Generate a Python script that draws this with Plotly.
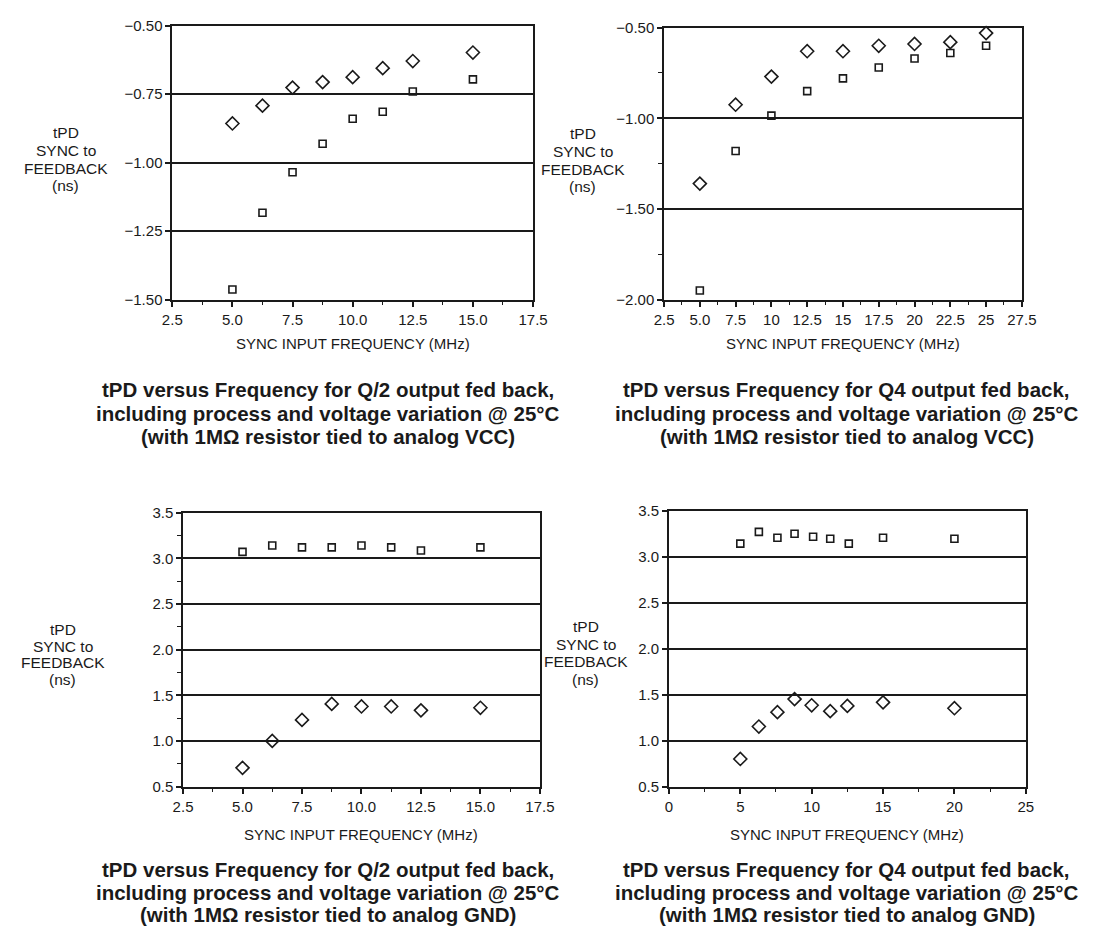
import plotly.graph_objects as go

# ---------------- data ----------------
# Panel 1: Q/2 fed back, 1MOhm to analog VCC
p1_freq = [5.0, 6.25, 7.5, 8.75, 10.0, 11.25, 12.5, 15.0]
p1_diamond = [-0.857, -0.792, -0.726, -0.706, -0.688, -0.655, -0.629, -0.598]
p1_square = [-1.463, -1.183, -1.035, -0.931, -0.840, -0.814, -0.740, -0.696]

# Panel 2: Q4 fed back, 1MOhm to analog VCC
p2_freq = [5.0, 7.5, 10.0, 12.5, 15.0, 17.5, 20.0, 22.5, 25.0]
p2_diamond = [-1.36, -0.925, -0.77, -0.63, -0.63, -0.60, -0.59, -0.58, -0.53]
p2_square = [-1.95, -1.18, -0.985, -0.85, -0.78, -0.72, -0.67, -0.64, -0.60]

# Panel 3: Q/2 fed back, 1MOhm to analog GND
p3_freq = [5.0, 6.25, 7.5, 8.75, 10.0, 11.25, 12.5, 15.0]
p3_square = [3.07, 3.14, 3.12, 3.12, 3.14, 3.12, 3.085, 3.12]
p3_diamond = [0.705, 1.0, 1.23, 1.405, 1.377, 1.377, 1.335, 1.363]

# Panel 4: Q4 fed back, 1MOhm to analog GND
p4_sq_freq = [5.0, 6.3, 7.6, 8.8, 10.1, 11.3, 12.6, 15.0, 20.0]
p4_square = [3.142, 3.27, 3.206, 3.249, 3.217, 3.195, 3.142, 3.206, 3.195]
p4_di_freq = [5.0, 6.3, 7.6, 8.8, 10.0, 11.3, 12.5, 15.0, 20.0]
p4_diamond = [0.80, 1.153, 1.309, 1.451, 1.384, 1.32, 1.377, 1.416, 1.352]

p2_xtickvals = [2.5, 5.0, 7.5, 10, 12.5, 15, 17.5, 20, 22.5, 25, 27.5]
p2_xticktext = ["2.5", "5.0", "7.5", "10", "12.5", "15", "17.5", "20", "22.5", "25", "27.5"]

y_title_lines = ["tPD", "SYNC to", "FEEDBACK", "(ns)"]
x_title = "SYNC INPUT FREQUENCY (MHz)"
caption_lines = [
    ["tPD versus Frequency for Q/2 output fed back,", "including process and voltage variation @ 25°C",
     "(with 1MΩ resistor tied to analog VCC)"],
    ["tPD versus Frequency for Q4 output fed back,", "including process and voltage variation @ 25°C",
     "(with 1MΩ resistor tied to analog VCC)"],
    ["tPD versus Frequency for Q/2 output fed back,", "including process and voltage variation @ 25°C",
     "(with 1MΩ resistor tied to analog GND)"],
    ["tPD versus Frequency for Q4 output fed back,", "including process and voltage variation @ 25°C",
     "(with 1MΩ resistor tied to analog GND)"],
]

# ---------------- layout helpers ----------------
W, H = 1119, 933
FONT = "Liberation Sans, Arial, sans-serif"
INK = "#1a1a1a"


def px(x):
    return x / W


def py(y):
    return 1 - y / H


# screen boxes of the four plot areas (left, top, right, bottom)
boxes = [(166, 17, 535, 296), (669, 19, 1035, 296), (177, 513, 542, 792), (674, 511, 1039, 792)]

fig = go.Figure()

dia = dict(symbol="diamond-open", size=10, color=INK, line=dict(width=1.6, color=INK))
sq = dict(symbol="square-open", size=7, color=INK, line=dict(width=1.6, color=INK))

series = [
    (p1_freq, p1_diamond, p1_freq, p1_square),
    (p2_freq, p2_diamond, p2_freq, p2_square),
    (p3_freq, p3_diamond, p3_freq, p3_square),
    (p4_di_freq, p4_diamond, p4_sq_freq, p4_square),
]
for i, (xd, yd, xs, ys) in enumerate(series):
    k = "" if i == 0 else str(i + 1)
    fig.add_trace(go.Scatter(x=xd, y=yd, mode="markers", marker=dia, xaxis="x" + k, yaxis="y" + k,
                             showlegend=False, cliponaxis=False, hoverinfo="x+y"))
    fig.add_trace(go.Scatter(x=xs, y=ys, mode="markers", marker=sq, xaxis="x" + k, yaxis="y" + k,
                             showlegend=False, cliponaxis=False, hoverinfo="x+y"))

x_cfg = [
    dict(range=[2.5, 17.5], dtick=2.5, tick0=2.5, tickformat=".1f", minor=dict(dtick=1.25, tick0=2.5)),
    dict(range=[2.5, 27.5], tickvals=p2_xtickvals, ticktext=p2_xticktext, minor=dict(dtick=1.25, tick0=2.5)),
    dict(range=[2.5, 17.5], dtick=2.5, tick0=2.5, tickformat=".1f", minor=dict(dtick=1.25, tick0=2.5)),
    dict(range=[0, 25], dtick=5, tick0=0, minor=dict(dtick=2.5, tick0=0)),
]
y_cfg = [
    dict(range=[-1.5, -0.5], dtick=0.25, tick0=-1.5, tickformat=".2f", minor=None),
    dict(range=[-2.0, -0.5], dtick=0.5, tick0=-2.0, tickformat=".2f", minor=dict(dtick=0.25, tick0=-2.0)),
    dict(range=[0.5, 3.5], dtick=0.5, tick0=0.5, tickformat=".1f", minor=dict(dtick=0.25, tick0=0.5)),
    dict(range=[0.5, 3.5], dtick=0.5, tick0=0.5, tickformat=".1f", minor=None),
]

TICK_SIZE = 15
layout_axes = {}
for i, (l, t, r, b) in enumerate(boxes):
    k = "" if i == 0 else str(i + 1)
    xc = dict(x_cfg[i])
    xminor = xc.pop("minor")
    xaxis = dict(domain=[px(l), px(r)], anchor="y" + k, showline=True, linewidth=1.6, linecolor=INK,
                 mirror=True, ticks="outside", ticklen=6, tickwidth=1.5, tickcolor=INK, showgrid=False,
                 zeroline=False, tickfont=dict(family=FONT, size=TICK_SIZE, color=INK),
                 minor=dict(ticks="outside", ticklen=4, tickwidth=1.3, tickcolor=INK, showgrid=False, **xminor),
                 fixedrange=True, **xc)
    yc = dict(y_cfg[i])
    yminor = yc.pop("minor")
    yaxis = dict(domain=[py(b), py(t)], anchor="x" + k, showline=True, linewidth=1.6, linecolor=INK,
                 mirror=True, ticks="outside", ticklen=5, tickwidth=1.5, tickcolor=INK, showgrid=True,
                 gridcolor=INK, gridwidth=1.6, zeroline=False,
                 tickfont=dict(family=FONT, size=TICK_SIZE, color=INK), fixedrange=True, **yc)
    if yminor:
        yaxis["minor"] = dict(ticks="outside", ticklen=4, tickwidth=1.3, tickcolor=INK, showgrid=False, **yminor)
    layout_axes["xaxis" + k] = xaxis
    layout_axes["yaxis" + k] = yaxis

annotations = []


def add_text(text, x, y, size, bold=False):
    annotations.append(dict(text=("<b>%s</b>" % text) if bold else text, x=px(x), y=py(y),
                            xref="paper", yref="paper", showarrow=False, xanchor="center",
                            yanchor="middle", align="center", font=dict(family=FONT, size=size, color=INK)))


# vertical axis titles (one line each, tight leading as in the reference)
ytitle_pos = [(57, [126, 144, 162, 180]), (586, [127, 145, 163, 181]),
              (54, [632, 649, 666, 683]), (589, [629, 647, 665, 683])]
for x, ys in ytitle_pos:
    for line, y in zip(y_title_lines, ys):
        add_text(line, x, y, 15.5)

# horizontal axis titles
xtitle_y = [341, 341, 841, 841]
for (l, t, r, b), y in zip(boxes, xtitle_y):
    add_text(x_title, (l + r) / 2, y, 15)

# captions
cap_pos = [(325, [388, 412, 435]), (856, [388, 412, 435]), (325, [876, 900, 922]), (856, [876, 900, 922])]
for (x, ys), lines in zip(cap_pos, caption_lines):
    for line, y in zip(lines, ys):
        add_text(line, x, y, 20.5, bold=True)

fig.update_layout(width=W, height=H, margin=dict(l=0, r=0, t=0, b=0), paper_bgcolor="white",
                  plot_bgcolor="white", showlegend=False, annotations=annotations, **layout_axes)

# remove the default page margin so the figure sits exactly in the 1119x933 window
fig.write_html("out.html", config={"displayModeBar": False},
               post_script="document.body.style.margin='0px';document.body.style.overflow='hidden';")
